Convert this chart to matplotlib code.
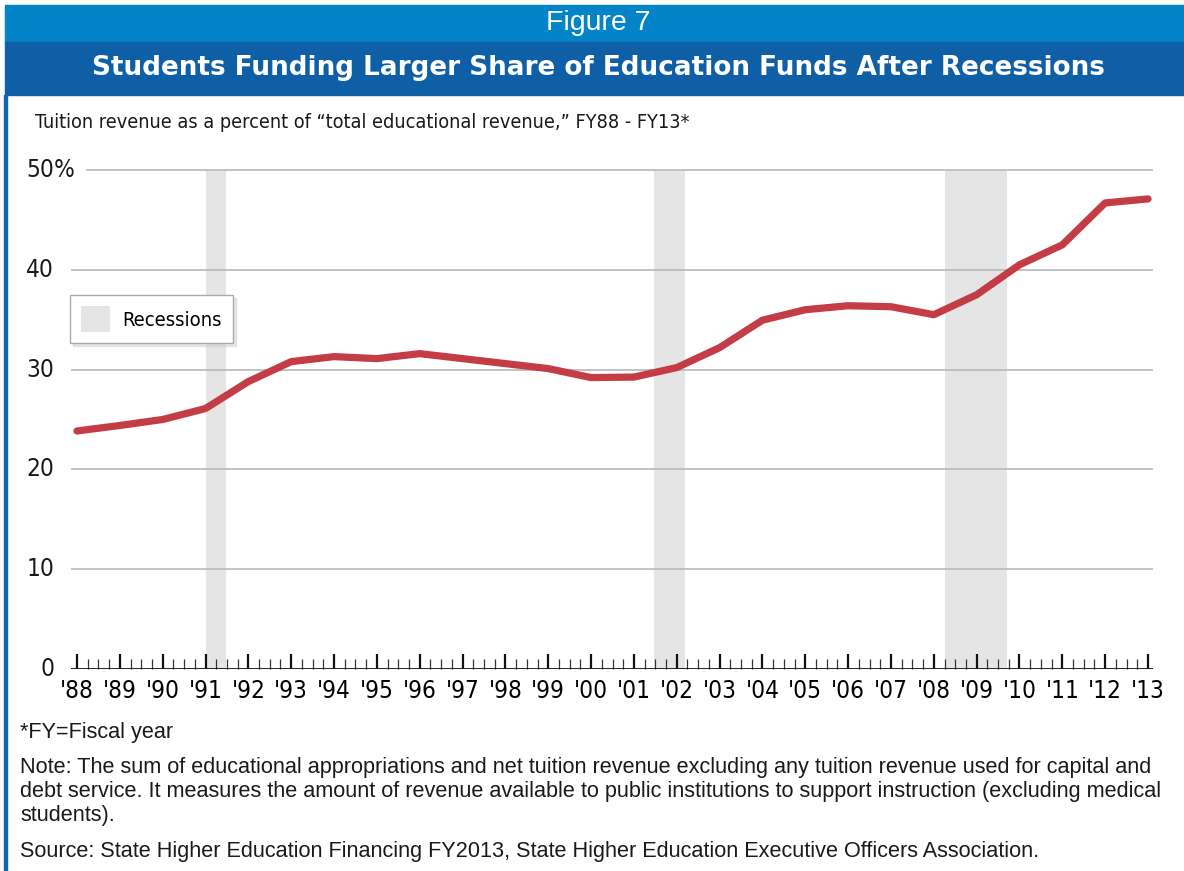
import matplotlib
matplotlib.use("Agg")
import matplotlib.pyplot as plt
from matplotlib import font_manager
from matplotlib.patches import Rectangle, Patch
from matplotlib.ticker import MultipleLocator
from matplotlib.transforms import blended_transform_factory

# tuition share of total educational revenue, FY88-FY13
years = list(range(1988, 2014))
share = [23.85, 24.4, 25.0, 26.1, 28.8, 30.8, 31.3, 31.1, 31.6, 31.1,
         30.6, 30.1, 29.2, 29.25, 30.2, 32.2, 34.95, 36.0, 36.4, 36.3,
         35.5, 37.5, 40.5, 42.5, 46.7, 47.1]
year_labels = ["'%02d" % (y % 100) for y in years]

# recession periods (fiscal-year axis)
recessions = [(1991.0, 1991.47), (2001.47, 2002.2), (2008.26, 2009.7)]

y_ticks = [0, 10, 20, 30, 40, 50]


def pick_condensed():
    # look for any narrow/condensed face among the installed fonts
    for f in font_manager.fontManager.ttflist:
        name = (f.name + " " + f.fname).lower()
        if f.weight in (400, "normal", "regular") and f.style == "normal" and \
                ("condensed" in name or "narrow" in name or f.stretch in ("condensed", 300)):
            if "bold" not in f.fname.lower() and "oblique" not in f.fname.lower():
                return font_manager.FontProperties(fname=f.fname)
    return None


cond = pick_condensed()
if cond is not None:
    def narrow(size):
        p = cond.copy()
        p.set_size(size)
        return p
else:
    def narrow(size):
        return font_manager.FontProperties(family="DejaVu Sans", size=size * 0.8)

plain = ["Liberation Sans", "DejaVu Sans"]

W, H = 1184, 871
fig = plt.figure(figsize=(W / 100, H / 100), dpi=100)


def fx(px):
    return px / W


def fy(py):
    return 1 - py / H


# header bands and left border
fig.patches.append(Rectangle((fx(5), fy(42)), 1, (42 - 5) / H, transform=fig.transFigure,
                             color="#0383C8", zorder=0))
fig.patches.append(Rectangle((fx(5), fy(95)), 1, (95 - 42) / H, transform=fig.transFigure,
                             color="#0E5FA6", zorder=0))
fig.patches.append(Rectangle((fx(4), 0), 3 / W, fy(95), transform=fig.transFigure,
                             color="#1565AD", zorder=0))

fig.text(fx(598), fy(23), "Figure 7", color="white", fontsize=20.5, ha="center", va="center",
         family=plain)
fig.text(fx(598), fy(68), "Students Funding Larger Share of Education Funds After Recessions",
         color="white", fontsize=18.9, fontweight="bold", ha="center", va="center",
         family=["DejaVu Sans"])
fig.text(fx(35), fy(123), "Tuition revenue as a percent of \u201ctotal educational revenue,\u201d FY88 - FY13*",
         fontproperties=narrow(14.2), ha="left", va="center", color="#1a1a1a")

ax_left, ax_right = 71, 1153
ax_top, ax_bottom = 165, 669
ax = fig.add_axes([fx(ax_left), fy(ax_bottom), (ax_right - ax_left) / W,
                   (ax_bottom - ax_top) / H])
x0 = 1988 - (77 - ax_left) / 42.84
x1 = 2013 + (ax_right - 1148) / 42.84
ax.set_xlim(x0, x1)
ax.set_ylim(0, 50.5)
for s in ax.spines.values():
    s.set_visible(False)

for a, b in recessions:
    ax.fill_between([a, b], 0, 50, color="#E5E5E5", lw=0, zorder=0)

for v in y_ticks[1:-1]:
    ax.axhline(v, color="#BDBDBD", lw=1.3, zorder=1)
ax.hlines(50, 1988.21, x1, color="#BDBDBD", lw=1.3, zorder=1)
ax.axhline(0, color="#111111", lw=2, zorder=4)

ax.plot(years, share, color="#C43C45", lw=5.2, solid_capstyle="round",
        solid_joinstyle="round", zorder=3)

ax.xaxis.set_minor_locator(MultipleLocator(0.25))
ax.set_xticks(years)
ax.set_xticklabels(year_labels, fontproperties=narrow(17.5))
ax.tick_params(axis="x", which="major", direction="in", length=11, width=1.6,
               color="#111111", pad=7, top=False, bottom=True)
ax.tick_params(axis="x", which="minor", direction="in", length=7.5, width=0.9,
               color="#333333")
ax.set_yticks([])

# y labels: numbers end at a common edge, percent sign hangs after 50
ylab_tr = blended_transform_factory(fig.transFigure, ax.transData)
for v in y_ticks:
    ax.text(fx(54), v, str(v), transform=ylab_tr, ha="right", va="center",
            fontproperties=narrow(17.5), color="#1a1a1a")
ax.text(fx(54), 50, "%", transform=ylab_tr, ha="left", va="center",
        fontproperties=narrow(17.5), color="#1a1a1a")

leg = fig.legend(handles=[Patch(facecolor="#E5E5E5", edgecolor="none", label="Recessions")],
                 loc="upper left", bbox_to_anchor=(fx(70), fy(295)), borderaxespad=0,
                 frameon=True, fancybox=False,
                 shadow={"color": "#d0d0d0", "ox": 2, "oy": -2},
                 prop=narrow(14.5), handlelength=1.45, handleheight=1.6, borderpad=0.55,
                 handletextpad=0.6)
leg.get_frame().set_edgecolor("#AAAAAA")
leg.get_frame().set_linewidth(1.0)

notes = [
    (732, "*FY=Fiscal year"),
    (767, "Note: The sum of educational appropriations and net tuition revenue excluding any tuition revenue used for capital and"),
    (791, "debt service. It measures the amount of revenue available to public institutions to support instruction (excluding medical"),
    (815, "students)."),
    (851, "Source: State Higher Education Financing FY2013, State Higher Education Executive Officers Association."),
]
for py, t in notes:
    fig.text(fx(20), fy(py), t, fontsize=15.6, ha="left", va="center", family=plain,
             color="#1a1a1a")

fig.savefig("out.png", dpi=100, facecolor="white")
